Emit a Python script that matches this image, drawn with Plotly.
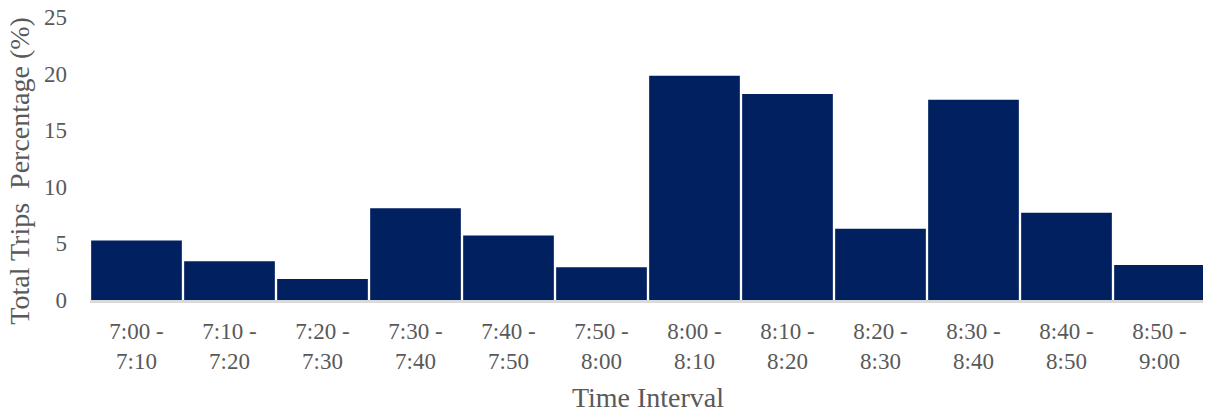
import plotly.graph_objects as go

categories = ["7:00 -<br>7:10", "7:10 -<br>7:20", "7:20 -<br>7:30", "7:30 -<br>7:40",
              "7:40 -<br>7:50", "7:50 -<br>8:00", "8:00 -<br>8:10", "8:10 -<br>8:20",
              "8:20 -<br>8:30", "8:30 -<br>8:40", "8:40 -<br>8:50", "8:50 -<br>9:00"]
values = [5.25, 3.42, 1.86, 8.1, 5.7, 2.9, 19.8, 18.2, 6.3, 17.7, 7.7, 3.1]
y_ticks = [0, 5, 10, 15, 20, 25]

font_family = "Liberation Serif, Times New Roman, serif"
text_color = "#595959"

fig = go.Figure(go.Bar(
    x=categories, y=values,
    marker=dict(color="#002060", line=dict(width=0)),
))

fig.update_layout(
    width=1203, height=409,
    margin=dict(l=82, r=5, t=9, b=117),
    paper_bgcolor="white", plot_bgcolor="white",
    bargap=0.025,
    font=dict(family=font_family, color=text_color, size=23),
    showlegend=False,
    annotations=[dict(
        text="Total Trips  Percentage (%)", textangle=-90,
        xref="paper", yref="paper", x=-0.063, y=0.456,
        xanchor="center", yanchor="middle", showarrow=False,
        font=dict(size=28, color=text_color, family=font_family),
    )],
)
fig.update_xaxes(
    title=dict(text="Time Interval", font=dict(size=28, color=text_color)),
    showline=True, linecolor="#d9d9d9", linewidth=3,
    showgrid=False, ticks="", tickfont=dict(size=23), automargin=False,
    ticklabelstandoff=8,
)
fig.update_yaxes(
    range=[0, 25], tickvals=y_ticks, showgrid=False, zeroline=False,
    showline=False, ticks="", tickfont=dict(size=23), automargin=False,
    ticklabelstandoff=22, ticklabeloverflow="allow",
)

fig.write_html("out.html")
